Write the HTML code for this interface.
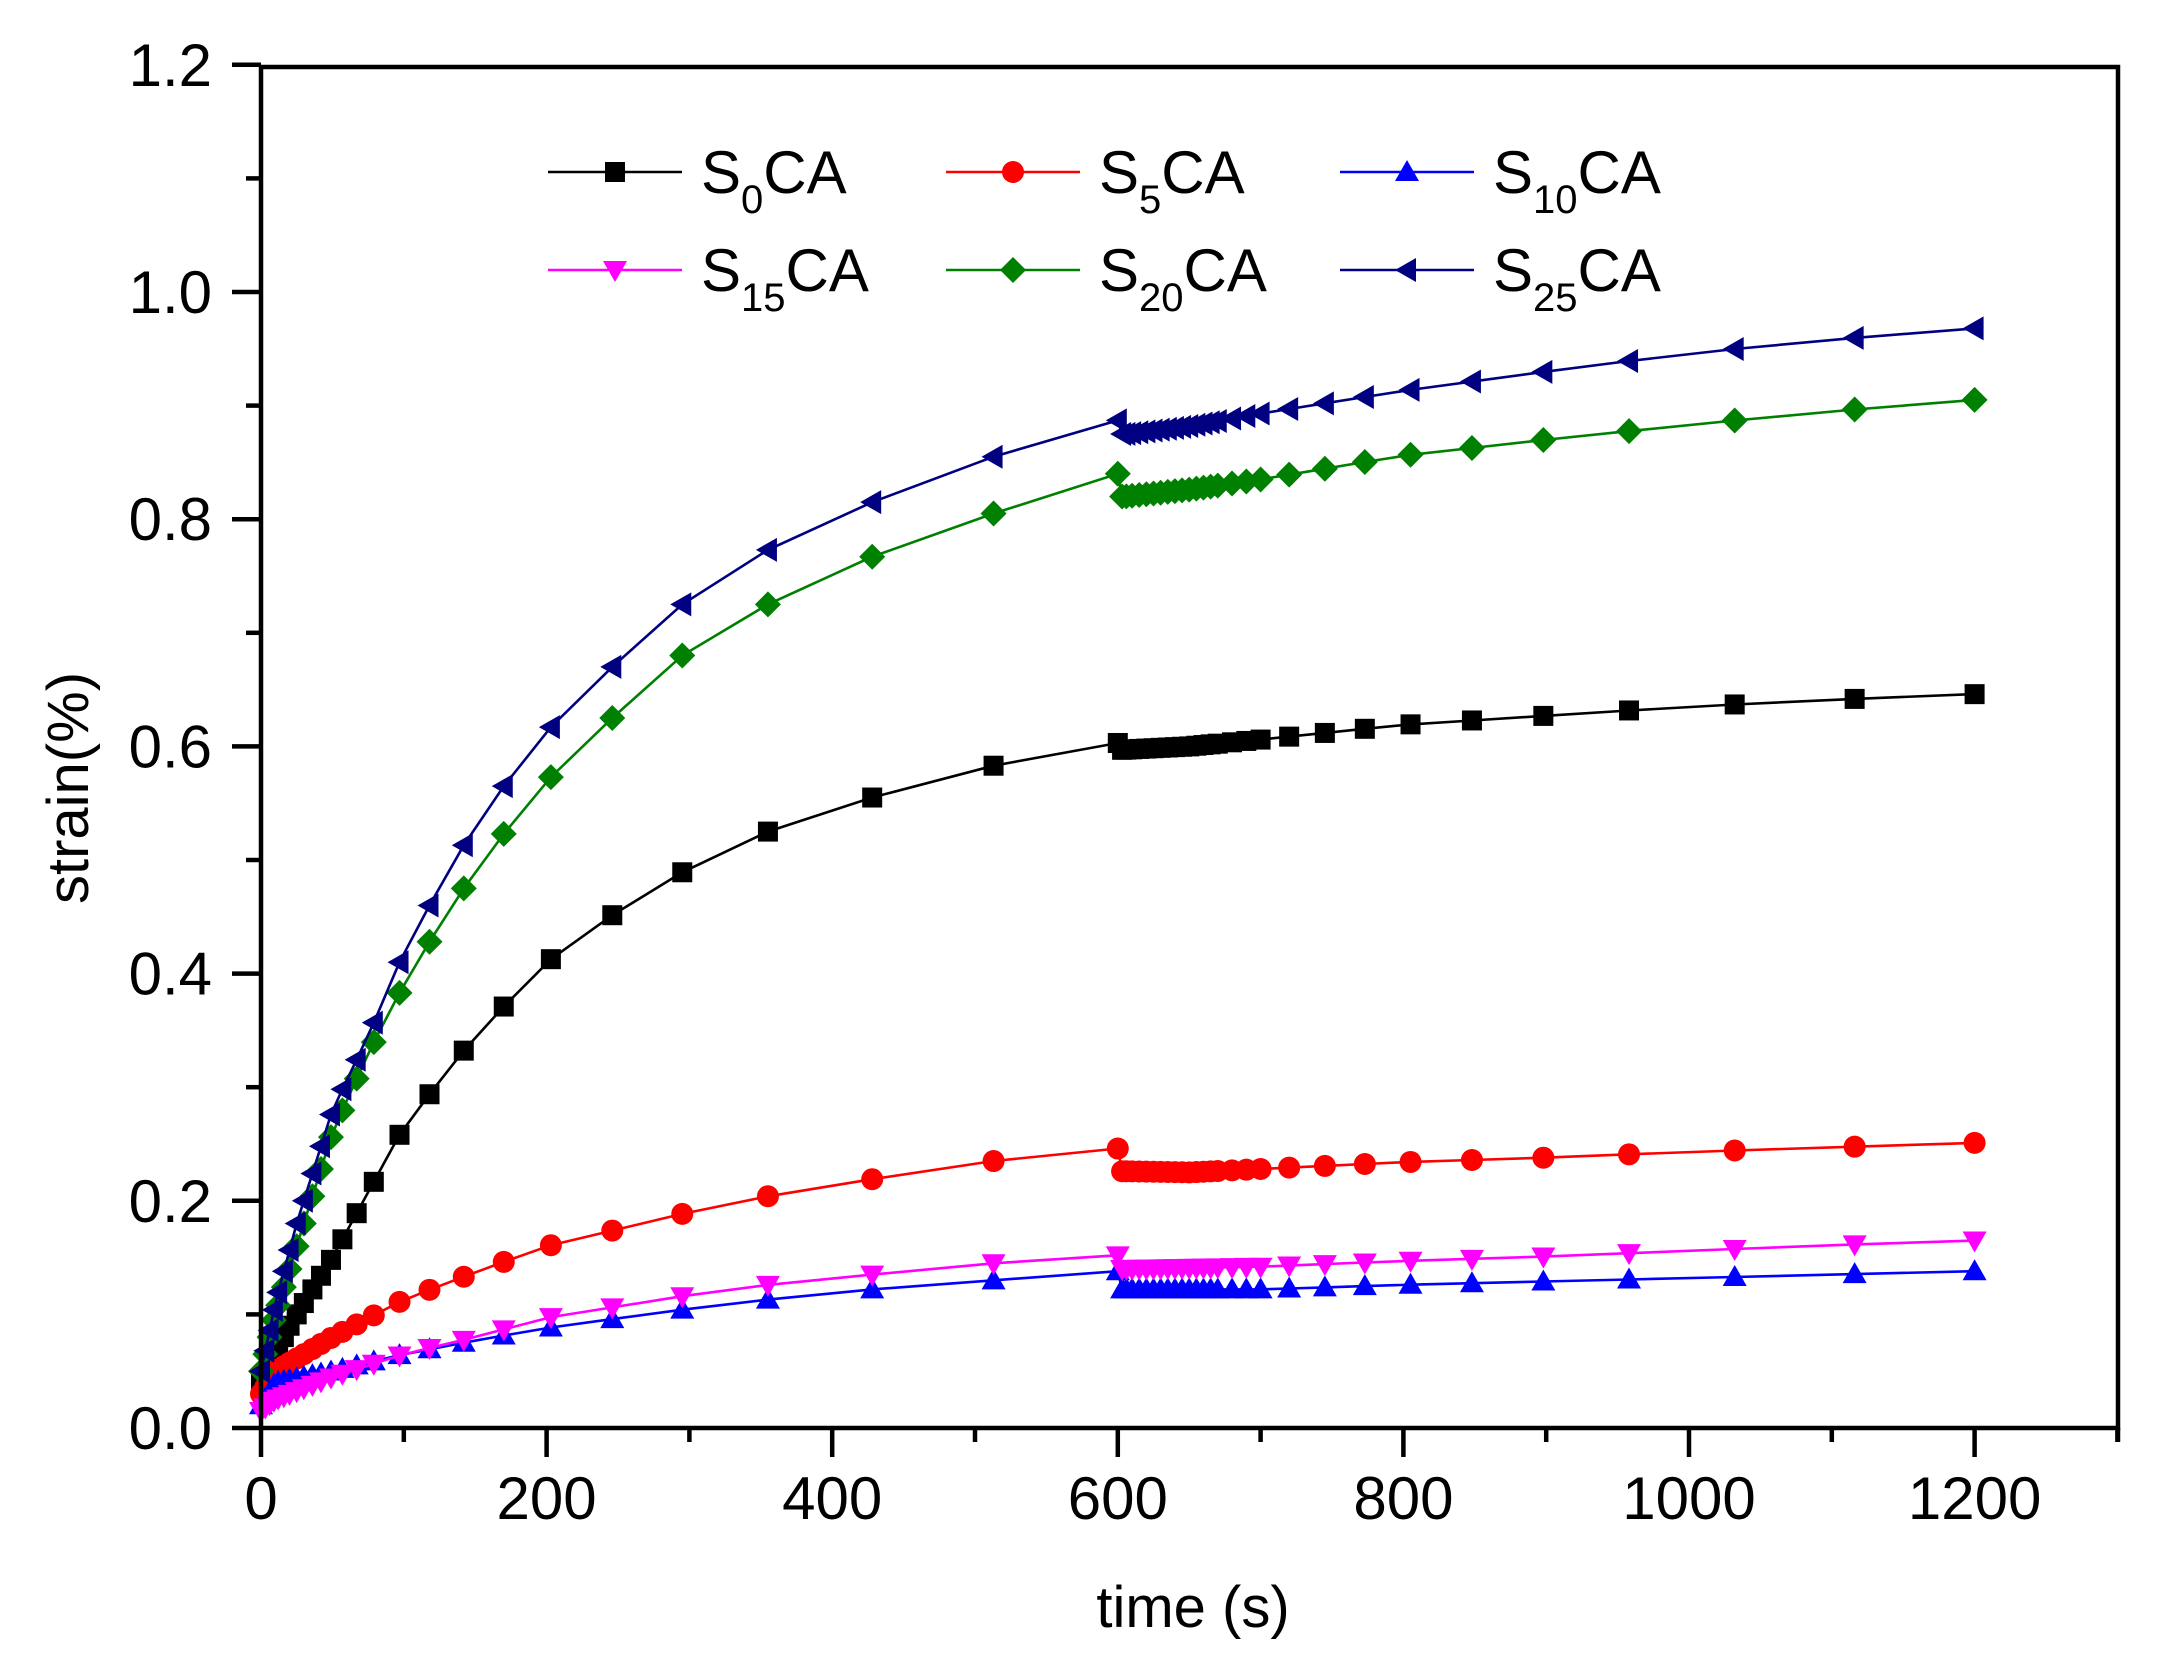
<!DOCTYPE html>
<html><head><meta charset="utf-8"><style>
html,body{margin:0;padding:0;background:#fff;}
svg{display:block;font-family:"Liberation Sans",Arial,sans-serif;}
</style></head><body>
<svg id="c" width="2157" height="1671" viewBox="0 0 2157 1671" xmlns="http://www.w3.org/2000/svg">
<rect width="2157" height="1671" fill="#fff"/>
<g id="series"></g>
<g id="axes" stroke="#000" stroke-width="4.5" fill="none">
<rect x="261" y="67" width="1857" height="1361"/>
<line x1="2118" y1="1428" x2="2118" y2="1442"/>
</g>
<g id="ticks" stroke="#000" stroke-width="4.5"></g>
<g font-size="60" fill="#000" id="labels"></g>
<text x="1193" y="1627" font-size="58" text-anchor="middle">time (s)</text>
<text transform="translate(88,788) rotate(-90)" font-size="58" text-anchor="middle">strain(%)</text>
<g id="legend"></g>
</svg>
<script>
var NS="http://www.w3.org/2000/svg";
function X(t){return 261+t*1.428;}
function Y(v){return 1428-v*1136;}
function el(n,a,p){var e=document.createElementNS(NS,n);for(var k in a)e.setAttribute(k,a[k]);p.appendChild(e);return e;}
var tk=document.getElementById('ticks'),lb=document.getElementById('labels');
for(var i=0;i<=12;i++){var v=i*0.1,y=Y(v),maj=i%2==0;
 el('line',{x1:261,y1:y,x2:maj?232:246,y2:y},tk);
 if(maj){var t=el('text',{x:212,y:y+21,'text-anchor':'end'},lb);t.textContent=v.toFixed(1);}}
for(var s=0;s<=1300;s+=100){var x=X(s),maj=s%200==0;
 el('line',{x1:x,y1:1428,x2:x,y2:maj?1457:1442},tk);
 if(maj){var t=el('text',{x:x,y:1519,'text-anchor':'middle'},lb);t.textContent=s;}}
var S=[
{c:'#000000',m:'sq',a:[[0,0.04],[20,0.09],[50,0.15],[100,0.265],[150,0.345],[200,0.41],[250,0.455],[300,0.493],[355,0.525],[428,0.555],[513,0.583],[600,0.603]],b:[[603,0.597],[650,0.6],[700,0.606],[800,0.619],[900,0.627],[1000,0.635],[1100,0.641],[1200,0.646]]},
{c:'#ff0000',m:'ci',a:[[0,0.03],[10,0.05],[30,0.065],[50,0.08],[100,0.113],[150,0.137],[200,0.16],[250,0.175],[300,0.19],[355,0.204],[428,0.219],[513,0.235],[600,0.246]],b:[[605,0.226],[650,0.225],[700,0.228],[800,0.234],[900,0.238],[1000,0.243],[1100,0.247],[1200,0.251]]},
{c:'#0000ff',m:'tu',a:[[0,0.02],[10,0.04],[50,0.05],[100,0.065],[150,0.077],[200,0.088],[300,0.105],[355,0.113],[428,0.122],[513,0.13],[600,0.138]],b:[[605,0.122],[700,0.122],[800,0.126],[900,0.129],[1000,0.132],[1100,0.135],[1200,0.138]]},
{c:'#ff00ff',m:'td',a:[[0,0.015],[10,0.025],[50,0.045],[100,0.065],[150,0.08],[200,0.097],[250,0.107],[300,0.117],[355,0.126],[428,0.135],[513,0.145],[600,0.152]],b:[[605,0.14],[700,0.142],[800,0.147],[900,0.151],[1000,0.156],[1100,0.161],[1200,0.165]]},
{c:'#008000',m:'di',a:[[0,0.05],[10,0.1],[25,0.16],[50,0.26],[75,0.33],[97,0.383],[118,0.428],[142,0.475],[170,0.523],[203,0.573],[246,0.625],[295,0.68],[355,0.725],[428,0.767],[513,0.805],[600,0.84]],b:[[605,0.82],[650,0.826],[700,0.835],[800,0.856],[900,0.87],[1000,0.883],[1100,0.895],[1200,0.905]]},
{c:'#000080',m:'tl',a:[[0,0.05],[10,0.11],[25,0.18],[50,0.28],[75,0.345],[97,0.41],[118,0.46],[142,0.513],[170,0.565],[203,0.617],[246,0.67],[295,0.725],[355,0.773],[428,0.815],[513,0.855],[600,0.887]],b:[[605,0.875],[650,0.882],[700,0.893],[800,0.913],[900,0.93],[1000,0.946],[1100,0.958],[1200,0.968]]}];
var T1=[0,3,6,9,12,16,20,25,30,36,42,49,57,67,79,97,118,142,170,203,246,295,355,428,513,600];
var T2=[603,606,610,615,620,625,630,635,640,645,650,655,660,665,670,680,690,700,720,745,773,805,848,898,958,1032,1116,1200];
function interp(A,t){if(t<=A[0][0])return A[0][1];for(var i=1;i<A.length;i++){if(t<=A[i][0]){var p=A[i-1],q=A[i];return p[1]+(q[1]-p[1])*(t-p[0])/(q[0]-p[0]);}}return A[A.length-1][1];}
function marker(m,x,y,c,g){
 if(m=='sq')el('rect',{x:x-10,y:y-10,width:20,height:20,fill:c},g);
 else if(m=='ci')el('circle',{cx:x,cy:y,r:11,fill:c},g);
 else if(m=='tu')el('polygon',{points:(x)+','+(y-12)+' '+(x-12)+','+(y+9)+' '+(x+12)+','+(y+9),fill:c},g);
 else if(m=='td')el('polygon',{points:(x)+','+(y+12)+' '+(x-12)+','+(y-9)+' '+(x+12)+','+(y-9),fill:c},g);
 else if(m=='di')el('polygon',{points:x+','+(y-13)+' '+(x+13)+','+y+' '+x+','+(y+13)+' '+(x-13)+','+y,fill:c},g);
 else if(m=='tl')el('polygon',{points:(x-12)+','+y+' '+(x+9)+','+(y-12)+' '+(x+9)+','+(y+12),fill:c},g);}
var sg=document.getElementById('series');
S.forEach(function(s){var pts=[];
 T1.forEach(function(t){pts.push([X(t),Y(interp(s.a,t))]);});
 T2.forEach(function(t){pts.push([X(t),Y(interp(s.b,t))]);});
 el('polyline',{points:pts.map(function(p){return p[0].toFixed(1)+','+p[1].toFixed(1);}).join(' '),fill:'none',stroke:s.c,'stroke-width':2.6},sg);
 pts.forEach(function(p){marker(s.m,p[0],p[1],s.c,sg);});});
var lg=document.getElementById('legend');
var L=[[548,172,0,'0'],[946,172,1,'5'],[1340,172,2,'10'],[548,270,3,'15'],[946,270,4,'20'],[1340,270,5,'25']];
L.forEach(function(l){var s=S[l[2]],x=l[0],y=l[1];
 el('line',{x1:x,y1:y,x2:x+134,y2:y,stroke:s.c,'stroke-width':2.6},lg);
 marker(s.m,x+67,y,s.c,lg);
 var t=el('text',{x:x+153,y:y+21,'font-size':60},lg);
 var a=el('tspan',{},t);a.textContent='S';
 var b=el('tspan',{'font-size':40,dy:20},t);b.textContent=l[3];
 var c=el('tspan',{dy:-20},t);c.textContent='CA';});
</script>
</body></html>
